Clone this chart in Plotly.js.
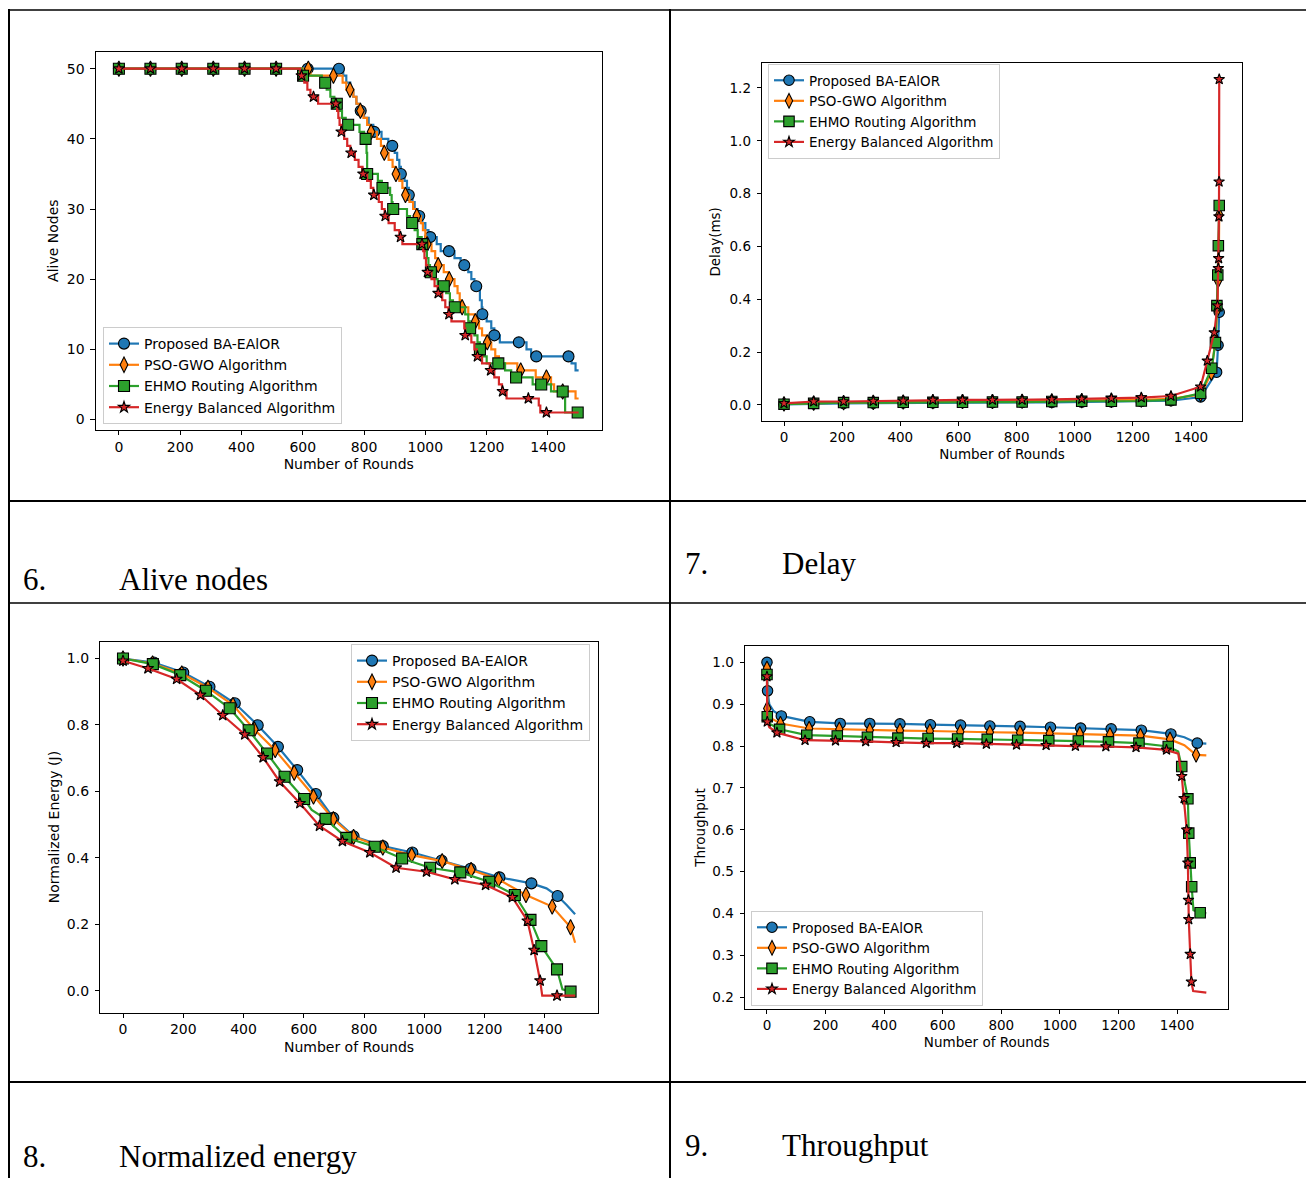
<!DOCTYPE html>
<html>
<head>
<meta charset="utf-8">
<script src="https://cdn.plot.ly/plotly-3.0.1.min.js"></script>
<style>html,body{margin:0;padding:0;background:#fff;}#chart{width:1306px;height:1178px;}</style>
</head>
<body>
<div id="chart"></div>
<script>
// ---------------- series ----------------
const seriesNames = ['Proposed BA-EAlOR', 'PSO-GWO Algorithm', 'EHMO Routing Algorithm', 'Energy Balanced Algorithm'];
const seriesColors = ['#1f77b4', '#ff7f0e', '#2ca02c', '#d62728'];
const seriesSymbols = ['circle', 'diamond-tall', 'square', 'star'];

// ---------------- Fig 6: Alive nodes (step lines + markers) ----------------
const aliveStepX_BA = [0,732,742,755,765,775,785,800,815,830,857,879,900,908,915,920,932,940,946,958,965,975,990,1000,1010,1037,1050,1095,1115,1140,1150,1160,1178,1184,1186,1200,1215,1225,1243,1330,1345,1477,1490,1500];
const aliveStepY_BA = [50,49,48,47,46,45,44,43,42,41,40,39,38,37,36,35,34,33,32,31,30,29,28,27,26,25,24,23,22,21,20,19,17,16,15,14,13,12,11,10,9,8,7,7];
const aliveMarkX_BA = [0,103,205,308,410,513,616,718,789,833,892,920,946,980,1016,1077,1127,1166,1186,1225,1305,1362,1467];
const aliveMarkY_BA = [50,50,50,50,50,50,50,50,44,41,39,35,32,29,26,24,22,19,15,12,11,9,9];

const aliveStepX_PG = [0,625,730,742,765,775,785,798,810,820,842,855,864,880,893,902,915,925,933,948,960,970,985,992,1000,1005,1020,1032,1040,1060,1075,1095,1105,1112,1118,1140,1160,1175,1185,1200,1215,1228,1240,1300,1360,1410,1420,1490,1500];
const aliveStepY_PG = [50,49,48,47,46,45,44,43,42,41,40,39,38,37,36,35,34,33,32,31,30,29,28,27,26,25,24,23,22,21,20,19,18,17,16,15,14,13,12,11,10,9,8,7,6,5,4,3,3];
const aliveMarkX_PG = [0,103,205,308,410,513,618,700,754,788,823,866,904,935,972,1006,1042,1078,1120,1163,1202,1311,1395,1448];
const aliveMarkY_PG = [50,50,50,50,50,50,50,49,47,44,41,38,35,32,29,25,22,20,16,14,11,7,6,4];

const aliveStepX_EH = [0,598,662,678,690,703,718,728,740,785,800,808,810,845,858,885,890,893,940,950,965,975,988,1000,1005,1010,1015,1030,1040,1068,1080,1090,1130,1140,1145,1160,1170,1178,1190,1200,1260,1280,1350,1410,1456,1500];
const aliveStepY_EH = [50,49,48,47,46,45,44,43,42,41,40,38,35,34,33,32,31,30,29,28,27,26,25,24,23,22,21,20,19,18,17,16,15,14,13,12,11,10,9,8,7,6,5,4,1,1];
const aliveMarkX_EH = [0,103,205,308,410,513,601,673,711,748,805,810,860,895,957,990,1018,1060,1096,1146,1178,1238,1296,1378,1448,1497];
const aliveMarkY_EH = [50,50,50,50,50,50,49,48,45,42,40,35,33,30,28,25,21,19,16,13,10,8,6,5,4,1];

const aliveStepX_EB = [0,592,605,615,625,650,712,716,720,725,735,745,755,770,782,795,810,822,830,848,858,867,880,900,915,925,993,997,1002,1006,1020,1030,1040,1055,1065,1075,1085,1127,1130,1150,1160,1168,1185,1210,1225,1240,1250,1265,1370,1375,1500];
const aliveStepY_EB = [50,49,48,47,46,45,44,43,42,41,40,39,38,37,36,35,34,33,32,31,30,29,28,27,26,25,24,23,22,21,20,19,18,17,16,15,14,13,12,11,10,9,8,7,6,5,4,3,2,1,1];
const aliveMarkX_EB = [0,103,205,308,410,513,596,635,708,726,758,797,832,869,919,989,1007,1042,1077,1130,1170,1213,1252,1336,1395];
const aliveMarkY_EB = [50,50,50,50,50,50,49,46,45,41,38,35,32,29,26,25,21,18,15,12,9,7,4,3,1];

// ---------------- Fig 7: Delay (ms) ----------------
const delayX_BA = [0,102,205,307,410,512,614,717,819,921,1024,1126,1229,1331,1433,1488,1493,1497];
const delayY_BA = [0.002,0.005,0.006,0.007,0.008,0.008,0.009,0.009,0.010,0.010,0.011,0.012,0.013,0.016,0.030,0.124,0.226,0.351];
const delayX_PG = [0,102,205,307,410,512,614,717,819,921,1024,1126,1229,1331,1433,1470,1484,1490,1493,1496,1497];
const delayY_PG = [0.004,0.007,0.009,0.010,0.011,0.012,0.013,0.013,0.014,0.015,0.016,0.017,0.019,0.023,0.040,0.120,0.250,0.360,0.470,0.600,0.720];
const delayX_EH = [0,102,205,307,410,512,614,717,819,921,1024,1126,1229,1331,1433,1471,1484,1489,1492,1494,1497];
const delayY_EH = [0.003,0.006,0.009,0.009,0.010,0.010,0.010,0.011,0.011,0.013,0.014,0.014,0.015,0.019,0.044,0.139,0.236,0.376,0.492,0.603,0.755];
const delayX_EB = [0,102,205,307,410,512,614,717,819,921,1024,1126,1229,1331,1433,1456,1480,1491,1494,1495,1496,1496.5,1497];
const delayY_EB = [0.006,0.013,0.013,0.015,0.016,0.019,0.019,0.019,0.019,0.021,0.023,0.025,0.028,0.034,0.069,0.167,0.274,0.376,0.517,0.555,0.713,0.845,1.233];

// ---------------- Fig 8: Normalized energy (J) ----------------
const energyMarkX_BA = [0,102,200,287,371,447,514,578,640,698,765,862,960,1057,1153,1249,1355,1442];
const energyMarkY_BA = [1.0,0.988,0.958,0.915,0.865,0.799,0.734,0.664,0.592,0.520,0.465,0.435,0.416,0.392,0.367,0.341,0.323,0.285];
const energyLineX_BA = [1405,1472,1500];
const energyLineY_BA = [0.308,0.258,0.230];
const energyMarkX_PG = [0,98,195,282,365,436,505,568,632,698,765,862,958,1059,1155,1246,1337,1424,1485];
const energyMarkY_PG = [1.0,0.985,0.955,0.912,0.860,0.786,0.724,0.656,0.584,0.516,0.463,0.431,0.408,0.390,0.363,0.335,0.288,0.253,0.191];
const energyLineX_PG = [1500];
const energyLineY_PG = [0.144];
const energyMarkX_EH = [0,99,190,275,354,417,478,536,601,672,741,835,926,1019,1119,1215,1300,1352,1388,1440,1485];
const energyMarkY_EH = [1.0,0.983,0.950,0.903,0.850,0.784,0.714,0.644,0.577,0.517,0.460,0.433,0.398,0.370,0.356,0.328,0.288,0.213,0.134,0.064,-0.003];
const energyLineX_EH = [626,1458,1500];
const energyLineY_EH = [0.544,0.004,-0.003];
const energyMarkX_EB = [0,83,178,257,331,404,465,520,587,652,728,819,906,1007,1101,1203,1292,1342,1364,1384,1440];
const energyMarkY_EB = [0.993,0.970,0.938,0.890,0.829,0.771,0.702,0.629,0.564,0.496,0.450,0.416,0.370,0.358,0.335,0.318,0.281,0.210,0.122,0.030,-0.015];
const energyLineX_EB = [1391,1500];
const energyLineY_EB = [-0.015,-0.015];

// ---------------- Fig 9: Throughput ----------------
const thrMarkX_BA = [0,2,49,146,250,351,454,558,661,761,864,968,1071,1175,1278,1379,1469];
const thrMarkY_BA = [1.0,0.932,0.872,0.858,0.854,0.854,0.853,0.851,0.850,0.848,0.847,0.845,0.843,0.841,0.838,0.829,0.807];
const thrLineX_BA = [8,22,1425,1500];
const thrLineY_BA = [0.900,0.884,0.821,0.806];
const thrMarkX_PG = [0,1,46,144,247,351,454,556,660,761,864,965,1068,1171,1275,1376,1465];
const thrMarkY_PG = [0.986,0.890,0.854,0.842,0.840,0.838,0.837,0.836,0.834,0.833,0.832,0.830,0.829,0.827,0.825,0.816,0.779];
const thrLineX_PG = [10,1425,1500];
const thrLineY_PG = [0.868,0.802,0.778];
const thrMarkX_EH = [0,1,43,136,240,343,447,550,651,752,856,962,1063,1166,1270,1370,1416,1437,1440,1445,1450,1479];
const thrMarkY_EH = [0.971,0.870,0.840,0.826,0.824,0.821,0.819,0.818,0.817,0.816,0.814,0.813,0.812,0.810,0.807,0.799,0.751,0.674,0.592,0.521,0.464,0.402];
const thrLineX_EH = [10,1404,1456,1500];
const thrLineY_EH = [0.853,0.787,0.408,0.401];
const thrMarkX_EB = [0,1,34,130,234,337,441,544,648,749,852,953,1053,1157,1260,1364,1416,1424,1433,1437,1439,1440,1445,1449];
const thrMarkY_EB = [0.966,0.858,0.832,0.814,0.813,0.811,0.809,0.807,0.807,0.805,0.803,0.802,0.800,0.799,0.797,0.791,0.728,0.675,0.600,0.521,0.432,0.386,0.303,0.237];
const thrLineX_EB = [8,1404,1455,1500];
const thrLineY_EB = [0.845,0.782,0.215,0.211];

// ---------------- captions ----------------
const captionNums = ['6.', '7.', '8.', '9.'];
const captionTexts = ['Alive nodes', 'Delay', 'Normalized energy', 'Throughput'];

// ---------------- helpers ----------------
const W = 1306, H = 1178;
const px = v => v / W;
const py = v => 1 - v / H;

// merge line-only points and marker points; markers become selected points
function merge(lx, ly, mx, my) {
  const pts = [];
  lx.forEach((x, i) => pts.push({x: x, y: ly[i], m: 0, o: i}));
  mx.forEach((x, i) => pts.push({x: x, y: my[i], m: 1, o: i}));
  pts.sort((a, b) => (a.x - b.x) || (a.m - b.m) || (a.o - b.o));
  const sel = [];
  pts.forEach((p, i) => { if (p.m) sel.push(i); });
  return {x: pts.map(p => p.x), y: pts.map(p => p.y), sel: sel};
}

const traces = [];
function addSeries(k, n, d, shape, scale) {
  const sizes = [11, 11, 11, 8.5];
  traces.push({
    type: 'scatter', mode: 'lines+markers', name: seriesNames[k],
    x: d.x, y: d.y,
    xaxis: n === 1 ? 'x' : 'x' + n, yaxis: n === 1 ? 'y' : 'y' + n,
    legend: n === 1 ? 'legend' : 'legend' + n,
    line: {color: seriesColors[k], width: 2.2, shape: shape},
    marker: {symbol: seriesSymbols[k], size: sizes[k] * scale, color: seriesColors[k], line: {color: '#000', width: 1.1}},
    selectedpoints: d.sel,
    selected: {marker: {opacity: 1}},
    unselected: {marker: {opacity: 0}},
    hoverinfo: 'skip'
  });
}

// Fig 6
addSeries(0, 1, merge(aliveStepX_BA, aliveStepY_BA, aliveMarkX_BA, aliveMarkY_BA), 'hv', 1);
addSeries(1, 1, merge(aliveStepX_PG, aliveStepY_PG, aliveMarkX_PG, aliveMarkY_PG), 'hv', 1);
addSeries(2, 1, merge(aliveStepX_EH, aliveStepY_EH, aliveMarkX_EH, aliveMarkY_EH), 'hv', 1);
addSeries(3, 1, merge(aliveStepX_EB, aliveStepY_EB, aliveMarkX_EB, aliveMarkY_EB), 'hv', 1);
// Fig 7
addSeries(0, 2, merge([], [], delayX_BA, delayY_BA), 'linear', 0.95);
addSeries(1, 2, merge([], [], delayX_PG, delayY_PG), 'linear', 0.95);
addSeries(2, 2, merge([], [], delayX_EH, delayY_EH), 'linear', 0.95);
addSeries(3, 2, merge([], [], delayX_EB, delayY_EB), 'linear', 0.95);
// Fig 8
addSeries(0, 3, merge(energyLineX_BA, energyLineY_BA, energyMarkX_BA, energyMarkY_BA), 'linear', 1);
addSeries(1, 3, merge(energyLineX_PG, energyLineY_PG, energyMarkX_PG, energyMarkY_PG), 'linear', 1);
addSeries(2, 3, merge(energyLineX_EH, energyLineY_EH, energyMarkX_EH, energyMarkY_EH), 'linear', 1);
addSeries(3, 3, merge(energyLineX_EB, energyLineY_EB, energyMarkX_EB, energyMarkY_EB), 'linear', 1);
// Fig 9
addSeries(0, 4, merge(thrLineX_BA, thrLineY_BA, thrMarkX_BA, thrMarkY_BA), 'linear', 0.95);
addSeries(1, 4, merge(thrLineX_PG, thrLineY_PG, thrMarkX_PG, thrMarkY_PG), 'linear', 0.95);
addSeries(2, 4, merge(thrLineX_EH, thrLineY_EH, thrMarkX_EH, thrMarkY_EH), 'linear', 0.95);
addSeries(3, 4, merge(thrLineX_EB, thrLineY_EB, thrMarkX_EB, thrMarkY_EB), 'linear', 0.95);

// ---------------- axes ----------------
function axis(box, isX, range, dtick, fmt, title, fs, anchor, standoff) {
  return {
    domain: isX ? [px(box[0]), px(box[1])] : [py(box[3]), py(box[2])],
    anchor: anchor, range: range, autorange: false, dtick: dtick, tick0: 0,
    tickformat: fmt, showgrid: false, zeroline: false,
    showline: true, mirror: true, linecolor: '#000', linewidth: 1,
    ticks: 'outside', ticklen: isX ? 4 : 4.5, tickwidth: 1, tickcolor: '#000',
    ticklabelstandoff: isX ? 0 : 3,
    tickfont: {family: 'DejaVu Sans', size: fs, color: '#000'},
    title: {text: title, font: {family: 'DejaVu Sans', size: fs, color: '#000'}, standoff: standoff},
    fixedrange: true
  };
}
const box1 = [95.9, 601.6, 51.5, 429.7];
const box2 = [762.2, 1241.9, 63, 420.7];
const box3 = [100.4, 597.7, 641.6, 1012.5];
const box4 = [745, 1228.3, 645.8, 1009.2];
const xr = [-75, 1575];

function legend(x, y, xa, ya, fs) {
  return {x: px(x), y: py(y), xanchor: xa, yanchor: ya, bgcolor: 'rgba(255,255,255,0.8)',
          bordercolor: '#cccccc', borderwidth: 1, font: {family: 'DejaVu Sans', size: fs, color: '#000'},
          traceorder: 'normal'};
}

const lineSegs = [
  [9, 10, 1306, 10, 1.5],
  [9, 9, 9, 1178, 2],
  [670, 9, 670, 1178, 2],
  [9, 501, 1306, 501, 2],
  [9, 603, 1306, 603, 1.5],
  [9, 1082, 1306, 1082, 2]
];
const shapes = lineSegs.map(s => ({type: 'line', xref: 'paper', yref: 'paper',
  x0: px(s[0]), y0: py(s[1]), x1: px(s[2]), y1: py(s[3]), line: {color: '#000', width: s[4]}}));

const capPos = [[21, 117, 579.5], [683, 780, 563], [21, 117, 1156], [683, 780, 1145.5]];
const annotations = [];
capPos.forEach((p, i) => {
  annotations.push({xref: 'paper', yref: 'paper', x: px(p[0]), y: py(p[2]), xanchor: 'left', yanchor: 'middle',
    showarrow: false, text: captionNums[i], font: {family: 'Liberation Serif', size: 31, color: '#000'}});
  annotations.push({xref: 'paper', yref: 'paper', x: px(p[1]), y: py(p[2]), xanchor: 'left', yanchor: 'middle',
    showarrow: false, text: captionTexts[i], font: {family: 'Liberation Serif', size: 31, color: '#000'}});
});

const layout = {
  width: W, height: H, margin: {l: 0, r: 0, t: 0, b: 0},
  paper_bgcolor: '#fff', plot_bgcolor: '#fff',
  font: {family: 'DejaVu Sans', color: '#000'},
  showlegend: true,
  xaxis:  axis(box1, true, xr, 200, 'd', 'Number of Rounds', 14, 'y', 5),
  yaxis:  axis(box1, false, [-1.45, 52.45], 10, 'd', 'Alive Nodes', 14, 'x', 4),
  xaxis2: axis(box2, true, xr, 200, 'd', 'Number of Rounds', 13.5, 'y2', 5),
  yaxis2: axis(box2, false, [-0.0596, 1.2946], 0.2, '.1f', 'Delay(ms)', 13.5, 'x2', 5),
  xaxis3: axis(box3, true, xr, 200, 'd', 'Number of Rounds', 14, 'y3', 5),
  yaxis3: axis(box3, false, [-0.0658, 1.0508], 0.2, '.1f', 'Normalized Energy (J)', 14, 'x3', 3),
  xaxis4: axis(box4, true, xr, 200, 'd', 'Number of Rounds', 13.5, 'y4', 5),
  yaxis4: axis(box4, false, [0.1715, 1.0395], 0.1, '.1f', 'Throughput', 13.5, 'x4', 3),
  legend:  legend(103, 424, 'left', 'bottom', 14),
  legend2: legend(768, 64, 'left', 'top', 13.5),
  legend3: legend(590, 644, 'right', 'top', 14),
  legend4: legend(751, 1006, 'left', 'bottom', 13.5),
  shapes: shapes,
  annotations: annotations
};

Plotly.newPlot('chart', traces, layout, {displayModeBar: false, staticPlot: true});
</script>
</body>
</html>
